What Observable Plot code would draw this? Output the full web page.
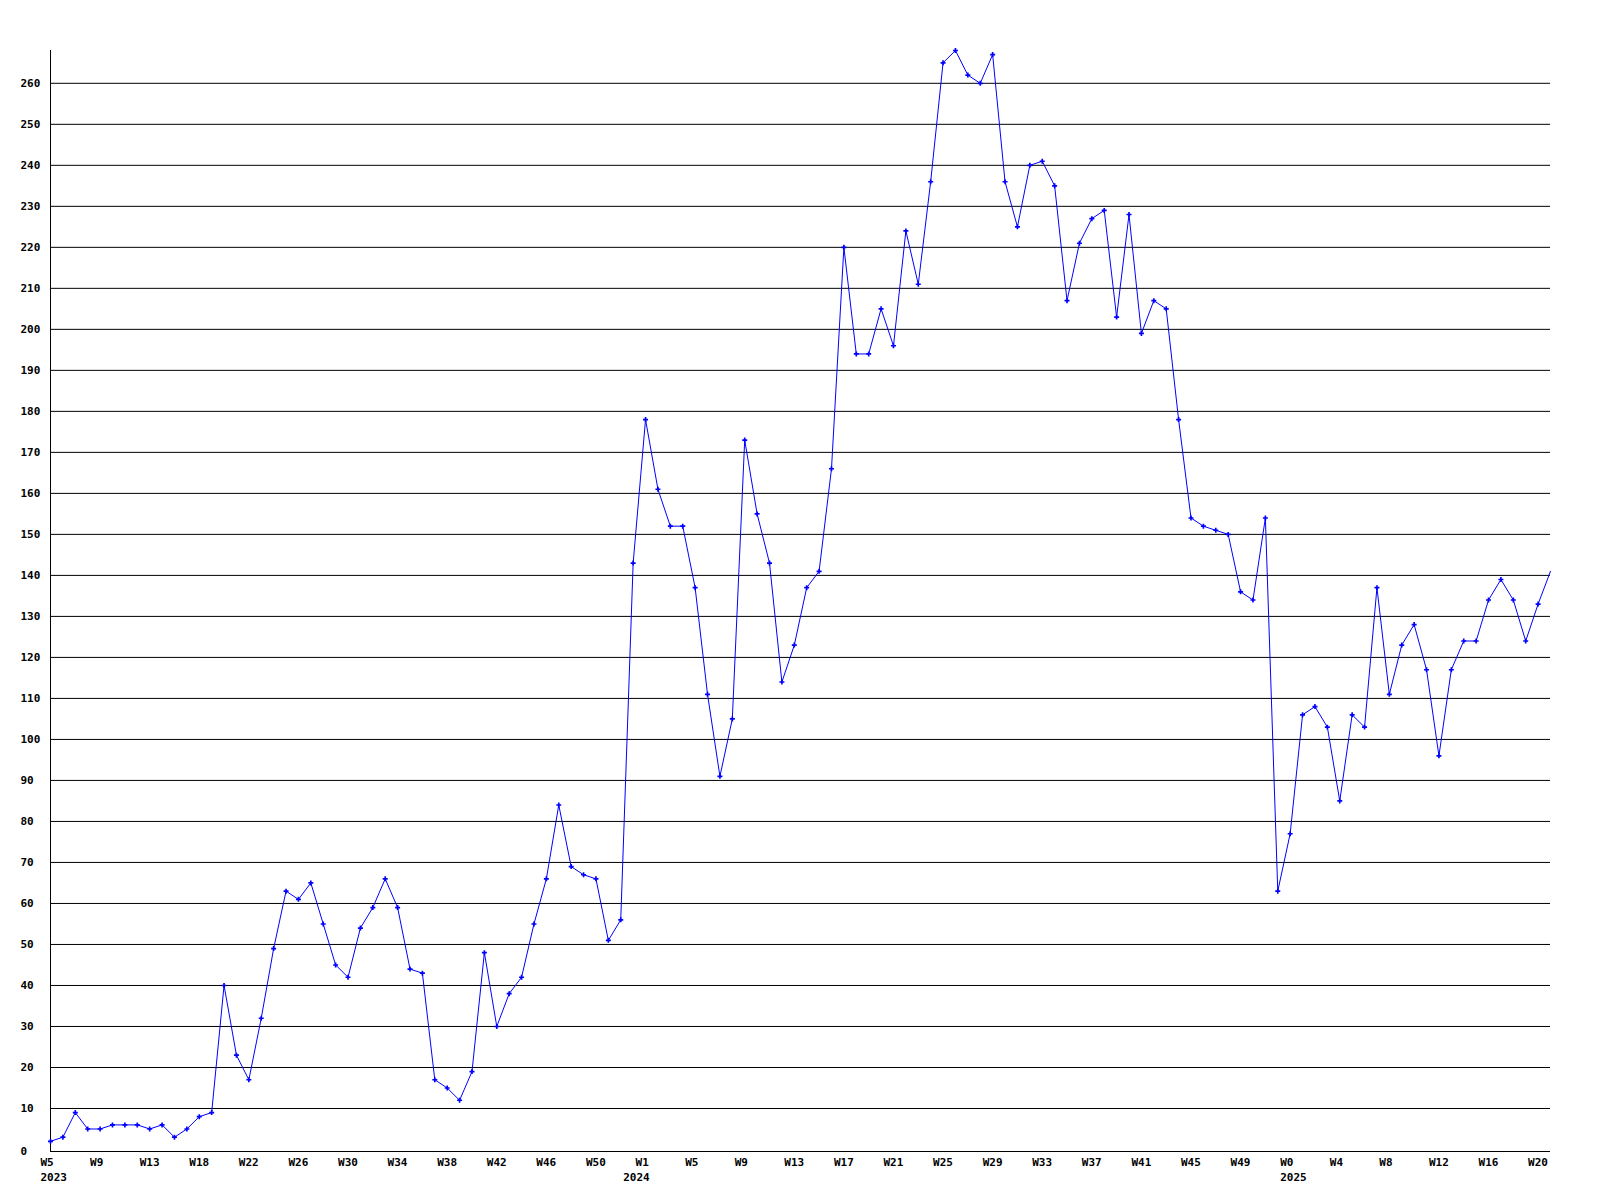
<!DOCTYPE html>
<html>
<head>
<meta charset="utf-8">
<script src="https://cdn.jsdelivr.net/npm/d3@7"></script>
<script src="https://cdn.jsdelivr.net/npm/@observablehq/plot@0.6"></script>
<style>
  html, body { margin: 0; padding: 0; background: #ffffff; }
  #chart svg { display: block; }
</style>
</head>
<body>
<div id="chart"></div>
<script>
// Weekly values, 2023 W5 through 2025 W21 (one value per week)
const values = [
  2, 3, 9, 5, 5, 6, 6, 6, 5, 6,
  3, 5, 8, 9, 40, 23, 17, 32, 49, 63,
  61, 65, 55, 45, 42, 54, 59, 66, 59, 44,
  43, 17, 15, 12, 19, 48, 30, 38, 42, 55,
  66, 84, 69, 67, 66, 51, 56, 143, 178, 161,
  152, 152, 137, 111, 91, 105, 173, 155, 143, 114,
  123, 137, 141, 166, 220, 194, 194, 205, 196, 224,
  211, 236, 265, 268, 262, 260, 267, 236, 225, 240,
  241, 235, 207, 221, 227, 229, 203, 228, 199, 207,
  205, 178, 154, 152, 151, 150, 136, 134, 154, 63,
  77, 106, 108, 103, 85, 106, 103, 137, 111, 123,
  128, 117, 96, 117, 124, 124, 134, 139, 134, 124,
  133, 141
];

// x tick labels (one every fourth week)
const weekTickLabels = [
  "W5", "W9", "W13", "W18", "W22", "W26", "W30", "W34", "W38", "W42", "W46", "W50",
  "W1", "W5", "W9", "W13", "W17", "W21", "W25", "W29", "W33", "W37", "W41", "W45", "W49",
  "W0", "W4", "W8", "W12", "W16", "W20"
];
const weekTickIndex = [
  0, 4, 8, 12, 16, 20, 24, 28, 32, 36, 40, 44,
  48, 52, 56, 60, 64, 68, 72, 76, 80, 84, 88, 92, 96,
  100, 104, 108, 112, 116, 120
];

// year labels and the week index where each year starts
const yearLabels = ["2023", "2024", "2025"];
const yearIndex = [0, 47, 100];

// y tick values
const yTicks = [10, 20, 30, 40, 50, 60, 70, 80, 90, 100, 110, 120, 130,
  140, 150, 160, 170, 180, 190, 200, 210, 220, 230, 240, 250, 260];

const data = values.map((v, i) => ({i, v}));
const lastIndex = values.length - 1;
const weekLabelOf = new Map(weekTickIndex.map((t, k) => [t, weekTickLabels[k]]));
const yearLabelOf = new Map(yearIndex.map((t, k) => [t, yearLabels[k]]));

const chart = Plot.plot({
  width: 1600,
  height: 1200,
  marginLeft: 50,
  marginRight: 50,
  marginTop: 50,
  marginBottom: 51,
  style: {
    fontFamily: "'DejaVu Sans Mono', monospace",
    fontSize: "11px",
    fontWeight: "bold",
    color: "#000000",
    background: "#ffffff"
  },
  x: {domain: [0, lastIndex], label: null},
  y: {domain: [0, 268], label: null},
  marks: [
    Plot.ruleY(yTicks, {stroke: "#000000", strokeWidth: 1}),
    Plot.ruleY([0], {stroke: "#000000", strokeWidth: 1, dy: 2}),
    Plot.ruleX([0], {y1: -0.6, y2: 268, stroke: "#000000", strokeWidth: 1}),
    Plot.axisY({
      ticks: yTicks, tickSize: 0, tickPadding: 0, textAnchor: "start", dx: -30,
      label: null, tickFormat: d => String(d), fill: "#000000"
    }),
    Plot.axisY({
      ticks: [0], tickSize: 0, tickPadding: 0, textAnchor: "start", dx: -30, dy: 2,
      label: null, tickFormat: d => String(d), fill: "#000000"
    }),
    Plot.axisX({
      ticks: weekTickIndex, tickSize: 0, tickPadding: 9, textAnchor: "start", dx: -10,
      label: null, lineAnchor: "top", tickFormat: t => weekLabelOf.get(t), fill: "#000000"
    }),
    Plot.axisX({
      ticks: yearIndex, tickSize: 0, tickPadding: 24, textAnchor: "start", dx: -10,
      label: null, lineAnchor: "top", tickFormat: t => yearLabelOf.get(t), fill: "#000000"
    }),
    Plot.line(data, {x: "i", y: "v", stroke: "#0000ff", strokeWidth: 1}),
    Plot.dot(data.filter(d => d.i < lastIndex), {
      x: "i", y: "v", symbol: "cross", r: 2.1, fill: "#0000ff", stroke: "none"
    })
  ]
});

document.getElementById("chart").appendChild(chart);
</script>
</body>
</html>
